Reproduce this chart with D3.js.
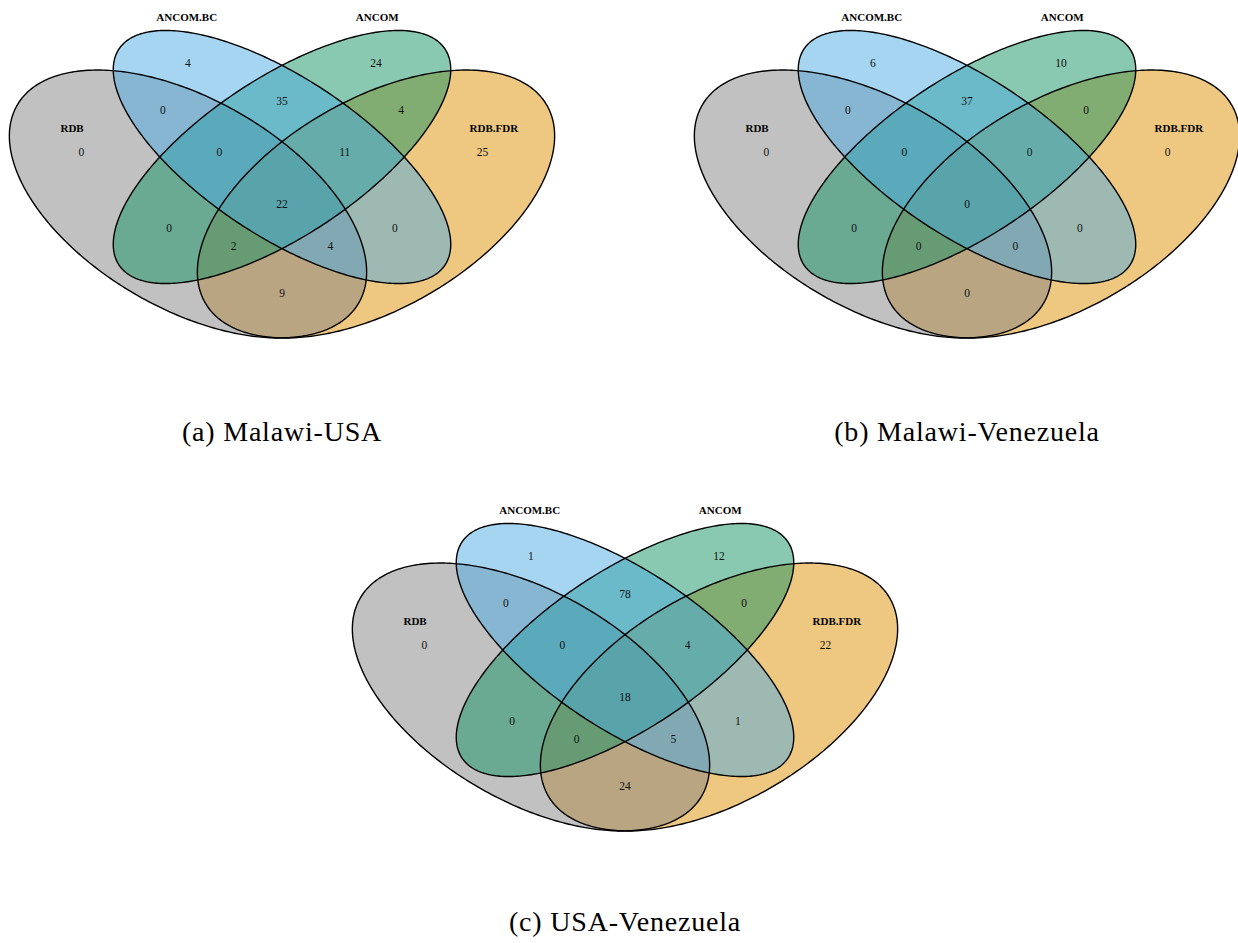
<!DOCTYPE html>
<html>
<head>
<meta charset="utf-8">
<script src="https://cdn.jsdelivr.net/npm/d3@7"></script>
<style>
  html, body { margin: 0; padding: 0; background: #ffffff; }
  svg { display: block; }
</style>
</head>
<body>
<div id="chart"></div>
<script>
// Four methods compared in each pairwise country contrast
const categories = ["RDB", "ANCOM.BC", "ANCOM", "RDB.FDR"];

// Venn regions, written as the sets each region belongs to
const regions = [
  ["RDB"], ["ANCOM.BC"], ["ANCOM"], ["RDB.FDR"],
  ["RDB", "ANCOM.BC"], ["ANCOM.BC", "ANCOM"], ["ANCOM", "RDB.FDR"],
  ["RDB", "ANCOM.BC", "ANCOM"], ["ANCOM.BC", "ANCOM", "RDB.FDR"],
  ["RDB", "ANCOM.BC", "ANCOM", "RDB.FDR"],
  ["RDB", "ANCOM"], ["ANCOM.BC", "RDB.FDR"],
  ["RDB", "ANCOM", "RDB.FDR"], ["RDB", "ANCOM.BC", "RDB.FDR"],
  ["RDB", "RDB.FDR"]
];

// Counts per region (same order as `regions`)
const countsMalawiUSA       = [0, 4, 24, 25, 0, 35, 4, 0, 11, 22, 0, 0, 2, 4, 9];
const countsMalawiVenezuela = [0, 6, 10, 0, 0, 37, 0, 0, 0, 0, 0, 0, 0, 0, 0];
const countsUSAVenezuela    = [0, 1, 12, 22, 0, 78, 0, 0, 4, 18, 0, 1, 0, 5, 24];

const panelCaptions = ["(a) Malawi-USA", "(b) Malawi-Venezuela", "(c) USA-Venezuela"];

// ---- layout (unit square of each Venn panel) ----
const W = 1238, H = 943;
const unitW = 626.7, unitH = 470;
const panels = [
  { counts: countsMalawiUSA,       ox: -31.35, oy: -45.1, capX: 282, capY: 441 },
  { counts: countsMalawiVenezuela, ox: 653.65, oy: -45.1, capX: 967, capY: 441 },
  { counts: countsUSAVenezuela,    ox: 311.65, oy: 447.9, capX: 625, capY: 931 }
];

// ellipse geometry per category: centre, semi-axes, major-axis direction
const ellipseGeom = {
  "RDB":      { cx: 0.35, cy: 0.47, a: 0.35, b: 0.20, dir: -1 },
  "ANCOM.BC": { cx: 0.50, cy: 0.57, a: 0.35, b: 0.15, dir: -1 },
  "ANCOM":    { cx: 0.50, cy: 0.57, a: 0.35, b: 0.15, dir:  1 },
  "RDB.FDR":  { cx: 0.65, cy: 0.47, a: 0.35, b: 0.20, dir:  1 }
};
const fillColor = {
  "RDB": "rgb(131,131,131)",
  "ANCOM.BC": "rgb(75,171,227)",
  "ANCOM": "rgb(19,145,99)",
  "RDB.FDR": "rgb(221,143,3)"
};
const drawOrder = ["RDB.FDR", "RDB", "ANCOM", "ANCOM.BC"];

const regionLabelPos = [
  [0.18, 0.58], [0.35, 0.77], [0.65, 0.77], [0.82, 0.58],
  [0.31, 0.67], [0.50, 0.69], [0.69, 0.67],
  [0.40, 0.58], [0.60, 0.58],
  [0.50, 0.47],
  [0.32, 0.42], [0.68, 0.42],
  [0.423, 0.38], [0.577, 0.38],
  [0.50, 0.28]
];
const categoryLabelPos = {
  "RDB": [0.165, 0.632],
  "ANCOM.BC": [0.348, 0.868],
  "ANCOM": [0.652, 0.868],
  "RDB.FDR": [0.838, 0.632]
};

const svg = d3.select("#chart").append("svg")
  .attr("width", W).attr("height", H)
  .attr("viewBox", `0 0 ${W} ${H}`);

function ellipsePoints(g, n) {
  const s = Math.SQRT1_2;
  const d = [s, g.dir * s];          // major axis
  const m = [-g.dir * s, s];         // minor axis
  return d3.range(n).map(i => {
    const t = (i / n) * 2 * Math.PI;
    const p = g.a * Math.cos(t), q = g.b * Math.sin(t);
    return [g.cx + p * d[0] + q * m[0], g.cy + p * d[1] + q * m[1]];
  });
}

panels.forEach(panel => {
  const x = d3.scaleLinear().domain([0, 1]).range([panel.ox, panel.ox + unitW]);
  const y = d3.scaleLinear().domain([0, 1]).range([panel.oy + unitH, panel.oy]);
  const line = d3.line().x(d => x(d[0])).y(d => y(d[1])).curve(d3.curveLinearClosed);

  const g = svg.append("g");

  // translucent fills
  g.selectAll("path.fill").data(drawOrder).join("path")
    .attr("class", "fill")
    .attr("d", c => line(ellipsePoints(ellipseGeom[c], 360)))
    .attr("fill", c => fillColor[c])
    .attr("fill-opacity", 0.5)
    .attr("stroke", "none");

  // outlines on top
  g.selectAll("path.outline").data(categories).join("path")
    .attr("class", "outline")
    .attr("d", c => line(ellipsePoints(ellipseGeom[c], 360)))
    .attr("fill", "none")
    .attr("stroke", "#000")
    .attr("stroke-width", 1.4);

  // region counts
  g.selectAll("text.count").data(regions.map((r, i) => ({ r, v: panel.counts[i], pos: regionLabelPos[i] })))
    .join("text")
    .attr("class", "count")
    .attr("x", d => x(d.pos[0]))
    .attr("y", d => y(d.pos[1]))
    .attr("dy", "0.35em")
    .attr("text-anchor", "middle")
    .attr("font-family", "'Liberation Serif', 'Times New Roman', serif")
    .attr("font-size", 11.5)
    .attr("fill", "#111")
    .text(d => d.v);

  // category names
  g.selectAll("text.cat").data(categories).join("text")
    .attr("class", "cat")
    .attr("x", c => x(categoryLabelPos[c][0]))
    .attr("y", c => y(categoryLabelPos[c][1]))
    .attr("dy", "0.35em")
    .attr("text-anchor", "middle")
    .attr("font-family", "'Liberation Serif', 'Times New Roman', serif")
    .attr("font-weight", "bold")
    .attr("font-size", 11)
    .attr("fill", "#000")
    .text(c => c);
});

// sub-figure captions
svg.selectAll("text.caption").data(panels).join("text")
  .attr("class", "caption")
  .attr("x", (d, i) => d.capX)
  .attr("y", d => d.capY)
  .attr("text-anchor", "middle")
  .attr("font-family", "'Liberation Serif', 'Times New Roman', serif")
  .attr("font-size", 28)
  .attr("letter-spacing", 0.8)
  .attr("fill", "#000")
  .text((d, i) => panelCaptions[i]);
</script>
</body>
</html>
